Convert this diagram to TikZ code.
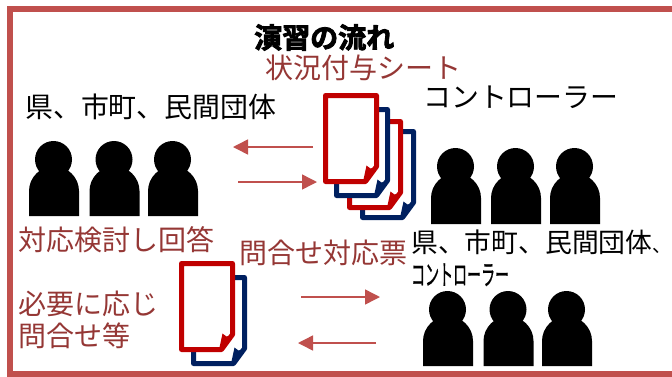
\documentclass[tikz,border=0pt]{standalone}
\usepackage{fontspec}
\newfontfamily\cjk{Noto Sans CJK JP}
\newfontfamily\cjkheavy[FakeBold=3]{Noto Sans CJK JP Bold}
\newfontfamily\cjkfat[FakeBold=1]{Noto Sans CJK JP}
\definecolor{framered}{HTML}{C0504D}
\definecolor{textred}{HTML}{953735}
\definecolor{docred}{HTML}{C00000}
\definecolor{docnavy}{HTML}{002060}
\newcommand{\person}[3]{%
  \fill[black] (#1+24.5,#2+18.5) circle (18.5);
  \fill[black] (#1,#3) -- (#1,#2+50) .. controls (#1,#2+36) and (#1+12,#2+25) .. (#1+25,#2+25)
    .. controls (#1+38,#2+25) and (#1+50,#2+36) .. (#1+50,#2+50) -- (#1+50,#3) -- cycle;
}
\newcommand{\docsheet}[3]{%
  \draw[docline,draw=#3] (#1,#2) -- (#1+51,#2) -- (#1+51,#2+71) -- (#1+40,#2+86) -- (#1,#2+86) -- cycle;
  \fill[#3] (#1+51,#2+71) -- (#1+40,#2+86) -- (#1+38,#2+84) -- (#1+41,#2+70) -- (#1+45,#2+73) -- cycle;
}
\tikzset{
  x=1pt,y=-1pt,
  docline/.style={line width=5pt,line join=round,fill=white},
  flow/.style={draw=framered,line width=1.5pt,-{Triangle[length=15pt,width=15pt]}},
  lbl/.style={inner sep=0pt,anchor=base west,text=textred,font=\cjk\fontsize{28}{30}\selectfont},
  blk/.style={inner sep=0pt,anchor=base west,text=black,font=\cjk\fontsize{27.9}{30}\selectfont},
}
\usetikzlibrary{arrows.meta}
\begin{document}
\begin{tikzpicture}
\useasboundingbox (0,0) rectangle (672,376);
\fill[white] (0,0) rectangle (672,376);
\draw[framered,line width=6pt] (10,9) rectangle (690,374);
\node[inner sep=0pt,anchor=base west,font=\cjkheavy\fontsize{28}{30}\selectfont] (title) at (254,48) {演習の流れ};
\node[lbl] (status) at (265,78) {状況付与シート};
\node[blk] (g1) at (25,117) {県、市町、民間団体};
\node[blk] (ctl) at (423,107) {コントローラー};
\node[lbl] (resp) at (18,250) {対応検討し回答};
\node[lbl] (sheet) at (239,263) {問合せ対応票};
\node[lbl] (ask1) at (18,314) {必要に応じ};
\node[lbl] (ask2) at (18,346) {問合せ等};
\node[blk,font=\cjk\fontsize{26.8}{28}\selectfont] (g2) at (411,252) {県、市町、民間団体{\fontsize{19}{20}\selectfont 、}};
\node[blk,font=\cjkfat\fontsize{28}{30}\selectfont,xscale=.5] (g3) at (411,285) {コントローラー};
\person{29}{141}{216}\person{89.5}{141}{216}\person{148}{141}{216}
\person{431}{148}{224}\person{491}{148}{224}\person{550}{148}{224}
\person{423}{291}{366}\person{483.5}{291}{366}\person{542}{291}{366}
\docsheet{362.5}{131.5}{docnavy}
\docsheet{349.5}{121.5}{docred}
\docsheet{336.5}{109.5}{docnavy}
\docsheet{325.5}{95.5}{docred}
\docsheet{193.5}{277.5}{docnavy}
\docsheet{181.5}{263.5}{docred}
\coordinate (a1s) at (313,147);\coordinate (a1e) at (233,147);
\coordinate (a2s) at (238,182);\coordinate (a2e) at (317,182);
\coordinate (a3s) at (301,297);\coordinate (a3e) at (380,297);
\coordinate (a4s) at (376,343);\coordinate (a4e) at (298,343);
\draw[flow] (a1s) -- (a1e);
\draw[flow] (a2s) -- (a2e);
\draw[flow] (a3s) -- (a3e);
\draw[flow] (a4s) -- (a4e);
\end{tikzpicture}
\end{document}
